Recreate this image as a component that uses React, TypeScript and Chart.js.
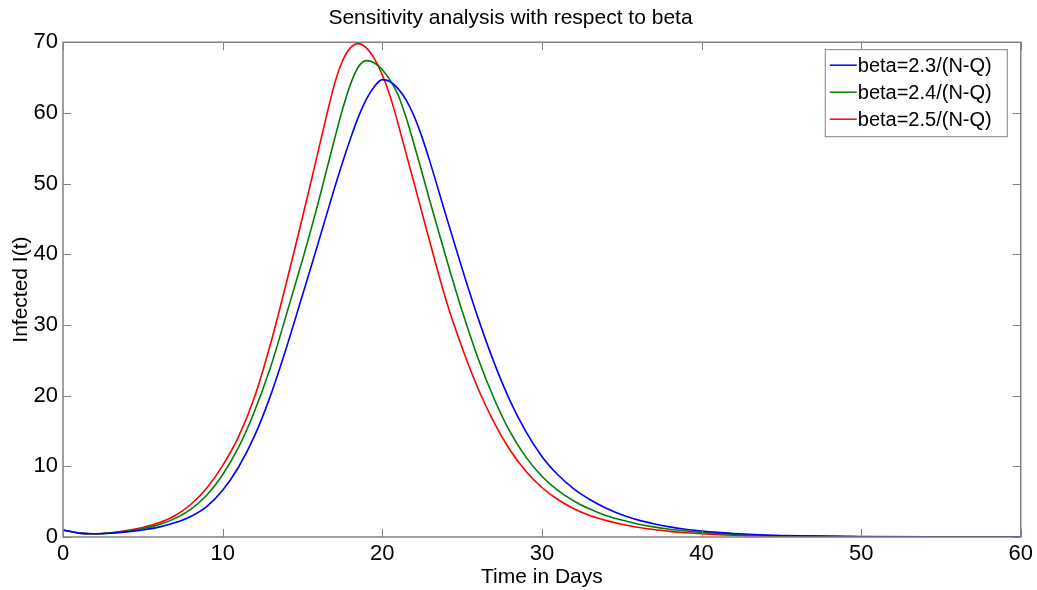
import React, { useEffect, useRef } from "react";
import { Chart, registerables } from "chart.js";

Chart.register(...registerables);

const days = [
  0, 1, 2, 3, 4, 5, 6, 7, 8, 9, 10, 11, 12, 13, 14,
  15, 15.5, 16, 16.5, 17, 17.5, 18, 18.5, 19, 19.5, 20, 20.5, 21, 21.5, 22, 22.5,
  23, 24, 25, 26, 27, 28, 29, 30, 31, 32, 33, 34, 35, 36, 37, 38, 39, 40,
  41, 42, 43, 44, 45, 50, 55, 60,
];

const beta23 = [
  1.0, 0.55, 0.45, 0.53, 0.72, 1.0, 1.4, 2.0, 2.9, 4.3, 6.6, 9.9, 14.3, 20.0, 26.8,
  34.2, 37.9, 41.7, 45.5, 49.3, 52.9, 56.3, 59.4, 61.9, 63.7, 64.7, 64.4, 63.4, 61.8, 59.5, 56.5,
  53.0, 45.4, 38.0, 31.0, 24.7, 19.3, 14.9, 11.4, 8.8, 6.8, 5.3, 4.1, 3.15, 2.42, 1.87, 1.43, 1.1, 0.85,
  0.65, 0.5, 0.38, 0.29, 0.22, 0.05, 0.01, 0,
];

const beta24 = [
  1.0, 0.55, 0.46, 0.58, 0.82, 1.2, 1.75, 2.6, 3.9, 5.9, 8.8, 12.7, 17.8, 24.0, 31.5,
  39.2, 43.2, 47.4, 51.8, 56.2, 60.4, 64.0, 66.5, 67.4, 67.1, 66.1, 64.6, 62.5, 59.3, 55.5, 51.5,
  47.4, 39.5, 32.0, 25.3, 19.6, 14.9, 11.3, 8.6, 6.6, 5.1, 3.95, 3.05, 2.4, 1.85, 1.43, 1.1, 0.85, 0.65,
  0.5, 0.38, 0.29, 0.22, 0.17, 0.04, 0.01, 0,
];

const beta25 = [
  1.0, 0.55, 0.45, 0.6, 0.9, 1.35, 2.0, 3.0, 4.6, 6.9, 10.1, 14.2, 19.8, 27.3, 36.0,
  45.2, 49.9, 54.7, 59.5, 64.0, 67.3, 69.2, 69.8, 69.2, 67.7, 65.4, 62.3, 58.4, 54.2, 50.0, 45.8,
  41.6, 33.5, 26.8, 21.0, 16.2, 12.3, 9.3, 7.0, 5.3, 4.0, 3.05, 2.35, 1.8, 1.38, 1.05, 0.8, 0.6, 0.45,
  0.34, 0.25, 0.19, 0.14, 0.1, 0.02, 0.005, 0,
];

const seriesLabels = ["beta=2.3/(N-Q)", "beta=2.4/(N-Q)", "beta=2.5/(N-Q)"];
const seriesColors = ["#0000ff", "#008000", "#ff0000"];
const xTicks = [0, 10, 20, 30, 40, 50, 60];
const yTicks = [0, 10, 20, 30, 40, 50, 60, 70];

const FONT = "'Liberation Sans', Arial, Helvetica, sans-serif";
const AXIS_GRAY = "#808080";

const frameAndTicks = {
  id: "frameAndTicks",
  afterDatasetsDraw(chart: any) {
    const { ctx, chartArea } = chart;
    const { left, right, top, bottom } = chartArea;
    const xs = chart.scales.x;
    const ys = chart.scales.y;
    const len = 8;
    ctx.save();
    ctx.strokeStyle = AXIS_GRAY;
    ctx.lineWidth = 1.5;
    ctx.beginPath();
    ctx.rect(left, top, right - left, bottom - top);
    ctx.stroke();
    ctx.lineWidth = 1;
    ctx.beginPath();
    xTicks.forEach((v) => {
      const px = Math.round(xs.getPixelForValue(v)) + 0.5;
      ctx.moveTo(px, bottom);
      ctx.lineTo(px, bottom - len);
      ctx.moveTo(px, top);
      ctx.lineTo(px, top + len);
    });
    yTicks.forEach((v) => {
      const py = Math.round(ys.getPixelForValue(v)) + 0.5;
      ctx.moveTo(left, py);
      ctx.lineTo(left + len, py);
      ctx.moveTo(right, py);
      ctx.lineTo(right - len, py);
    });
    ctx.stroke();
    ctx.restore();
  },
};

const boxLegend = {
  id: "boxLegend",
  afterDraw(chart: any) {
    const { ctx, chartArea } = chart;
    const boxRight = chartArea.right - 14;
    const boxLeft = boxRight - 182;
    const boxTop = chartArea.top + 7;
    const rowH = 27;
    const boxH = 87;
    ctx.save();
    ctx.fillStyle = "#ffffff";
    ctx.fillRect(boxLeft, boxTop, boxRight - boxLeft, boxH);
    ctx.strokeStyle = AXIS_GRAY;
    ctx.lineWidth = 1;
    ctx.strokeRect(boxLeft + 0.5, boxTop + 0.5, boxRight - boxLeft, boxH);
    ctx.font = `20px ${FONT}`;
    ctx.textBaseline = "middle";
    ctx.textAlign = "left";
    chart.data.datasets.forEach((ds: any, i: number) => {
      const cy = boxTop + 16 + i * rowH;
      ctx.strokeStyle = ds.borderColor;
      ctx.lineWidth = 1.5;
      ctx.beginPath();
      ctx.moveTo(boxLeft + 5, cy);
      ctx.lineTo(boxLeft + 32, cy);
      ctx.stroke();
      ctx.fillStyle = "#000000";
      ctx.fillText(ds.label, boxLeft + 33, cy + 1);
    });
    ctx.restore();
  },
};

export default function App() {
  const canvasRef = useRef<HTMLCanvasElement | null>(null);

  useEffect(() => {
    document.body.style.margin = "0";
    const canvas = canvasRef.current;
    if (!canvas) return;
    const series = [beta23, beta24, beta25];
    const chart = new Chart(canvas, {
      type: "line",
      data: {
        datasets: series.map((vals, i) => ({
          label: seriesLabels[i],
          data: days.map((d, j) => ({ x: d, y: vals[j] })),
          borderColor: seriesColors[i],
          backgroundColor: seriesColors[i],
          borderWidth: 1.6,
          pointRadius: 0,
          fill: false,
          cubicInterpolationMode: "monotone" as const,
        })),
      },
      options: {
        responsive: false,
        animation: false,
        layout: { padding: { top: 0, right: 16, left: 0, bottom: 0 } },
        plugins: {
          legend: { display: false },
          tooltip: { enabled: false },
          title: {
            display: true,
            text: "Sensitivity analysis with respect to beta",
            color: "#000000",
            font: { family: FONT, size: 21, weight: "normal" },
            padding: { top: 6, bottom: 11 },
          },
        },
        scales: {
          x: {
            type: "linear",
            min: 0,
            max: 60,
            afterBuildTicks: (scale: any) => {
              scale.ticks = xTicks.map((v) => ({ value: v }));
            },
            afterFit: (scale: any) => {
              scale.height = 53;
            },
            grid: { display: false, drawTicks: false },
            border: { display: false },
            ticks: {
              color: "#000000",
              font: { family: FONT, size: 22 },
              padding: 4,
              maxRotation: 0,
            },
            title: {
              display: true,
              text: "Time in Days",
              color: "#000000",
              font: { family: FONT, size: 21 },
              padding: { top: 0, bottom: 0 },
            },
          },
          y: {
            type: "linear",
            min: 0,
            max: 70,
            afterBuildTicks: (scale: any) => {
              scale.ticks = yTicks.map((v) => ({ value: v }));
            },
            afterFit: (scale: any) => {
              scale.width = 63;
            },
            grid: { display: false, drawTicks: false },
            border: { display: false },
            ticks: {
              color: "#000000",
              font: { family: FONT, size: 22 },
              padding: 5,
            },
            title: {
              display: true,
              text: "Infected I(t)",
              color: "#000000",
              font: { family: FONT, size: 21 },
              padding: { top: 9, bottom: 0 },
            },
          },
        },
      },
      plugins: [frameAndTicks, boxLegend],
    });
    return () => chart.destroy();
  }, []);

  return (
    <div style={{ width: 1037, height: 590, background: "#ffffff" }}>
      <canvas ref={canvasRef} width={1037} height={590} />
    </div>
  );
}
